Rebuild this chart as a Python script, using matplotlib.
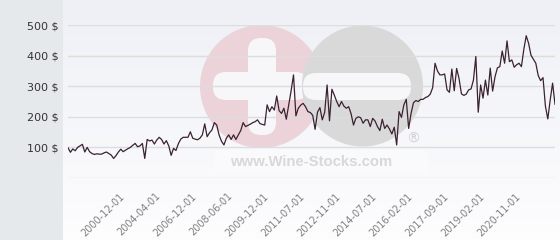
import numpy as np
import matplotlib
matplotlib.use("Agg")
import matplotlib.pyplot as plt
from matplotlib.patches import Circle, Rectangle, FancyBboxPatch

# ---------------- data ----------------
prices = [
    99, 84, 95, 89, 100, 105, 110, 85, 100, 86,
    80, 77, 79, 78, 78, 82, 85, 80, 75, 64,
    73, 85, 94, 86, 91, 96, 100, 107, 113, 102,
    105, 113, 64, 126, 121, 124, 111, 124, 133, 126,
    111, 122, 105, 74, 97, 90, 112, 127, 133, 133,
    133, 151, 130, 127, 125, 130, 141, 177, 135, 148,
    157, 181, 173, 140, 120, 108, 130, 141, 126, 141,
    126, 141, 155, 181, 168, 172, 176, 181, 184, 190,
    178, 175, 173, 239, 217, 233, 222, 268, 220, 211,
    228, 192, 239, 285, 337, 203, 228, 238, 244, 233,
    217, 214, 205, 159, 215, 230, 190, 215, 304, 187,
    290, 271, 250, 233, 250, 235, 228, 233, 210, 173,
    195, 200, 197, 179, 190, 190, 168, 195, 186, 168,
    155, 192, 162, 173, 160, 144, 166, 108, 217, 198,
    239, 257, 162, 211, 246, 253, 250, 257, 257, 263,
    266, 274, 295, 375, 350, 337, 337, 340, 288, 280,
    356, 285, 358, 325, 275, 270, 274, 288, 291, 320,
    397, 215, 304, 261, 320, 271, 359, 284, 331, 360,
    364, 415, 375, 448, 380, 386, 362, 370, 375, 364,
    420, 465, 440, 401, 388, 375, 335, 318, 328, 235,
    193, 255, 310, 241,
]
tick_labels = ["2000-12-01", "2004-04-01", "2006-12-01", "2008-06-01",
               "2009-12-01", "2011-07-01", "2012-11-01", "2014-07-01",
               "2016-02-01", "2017-09-01", "2019-02-01", "2020-11-01"]
first_tick = 23
tick_step = 15
y_ticks = [0, 100, 200, 300, 400, 500]

# ---------------- figure ----------------
W, H = 560, 240
fig = plt.figure(figsize=(W / 100, H / 100), dpi=100)

bg = fig.add_axes([0, 0, 1, 1])
bg.set_xlim(0, W)
bg.set_ylim(H, 0)
bg.axis("off")
top = np.array([239, 240, 246]) / 255
bot = np.array([253, 253, 254]) / 255
g = np.linspace(0, 1, H)[:, None, None]
img = top + (bot - top) * g
bg.imshow(img, extent=(63, W, H, 0), aspect="auto", zorder=0)
bg.add_patch(Rectangle((0, 0), 63, H, color="#e6e9ec", zorder=1, lw=0))

# watermark
pink = "#ecd3da"
grey = "#d9d9da"
wcol = "#f7f7fa"
bg.add_patch(Circle((261.5, 86.5), 61.5, color=pink, zorder=2, lw=0))
bg.add_patch(FancyBboxPatch((248, 38), 28, 97,
                            boxstyle="round,pad=0,rounding_size=13",
                            color=wcol, zorder=3, lw=0))
bg.add_patch(FancyBboxPatch((213, 72), 95, 28,
                            boxstyle="round,pad=0,rounding_size=13",
                            color=wcol, zorder=3, lw=0))
bg.add_patch(Circle((362.5, 86.0), 60.5, color=grey, zorder=4, lw=0))
bg.add_patch(FancyBboxPatch((303, 73), 108, 27,
                            boxstyle="round,pad=0,rounding_size=13",
                            color=wcol, zorder=5, lw=0))
bg.add_patch(Rectangle((215, 150), 213, 24, color="white", alpha=0.3,
                       zorder=5, lw=0))
bg.text(311, 162, "www.Wine-Stocks.com", family="Liberation Sans",
        weight="bold", fontsize=10.7, color="#d8d8d8",
        ha="center", va="center", zorder=6)
bg.text(413, 139, "\u00ae", family="DejaVu Sans", fontsize=10,
        color="#d2d2d2", ha="center", va="center", zorder=6)

# ---------------- main axes ----------------
ax = fig.add_axes([68 / W, (H - 178) / H, (555 - 68) / W, (178 - 25) / H])
ax.patch.set_alpha(0)
x = np.arange(len(prices))
ax.plot(x, prices, color="#3a2230", lw=0.9, zorder=3)
ax.set_xlim(0, len(prices) - 1)
ax.set_ylim(0, 500)
ax.set_yticks(y_ticks)
ax.set_yticklabels(["" if v == 0 else f"{v} $" for v in y_ticks])
ax.grid(axis="y", color="#dddddd", lw=1)
ax.set_axisbelow(True)
for s in ax.spines.values():
    s.set_visible(False)

tick_pos = [first_tick + k * tick_step for k in range(len(tick_labels))]
ax.set_xticks(tick_pos)
ax.set_xticklabels(tick_labels, rotation=45, ha="right", va="center",
                   rotation_mode="anchor", fontsize=7, color="#808080")
ax.tick_params(axis="x", length=0, pad=12)
ax.tick_params(axis="y", length=0, pad=6.5, labelsize=8, labelcolor="#333333")

fig.savefig("out.png", dpi=100)
